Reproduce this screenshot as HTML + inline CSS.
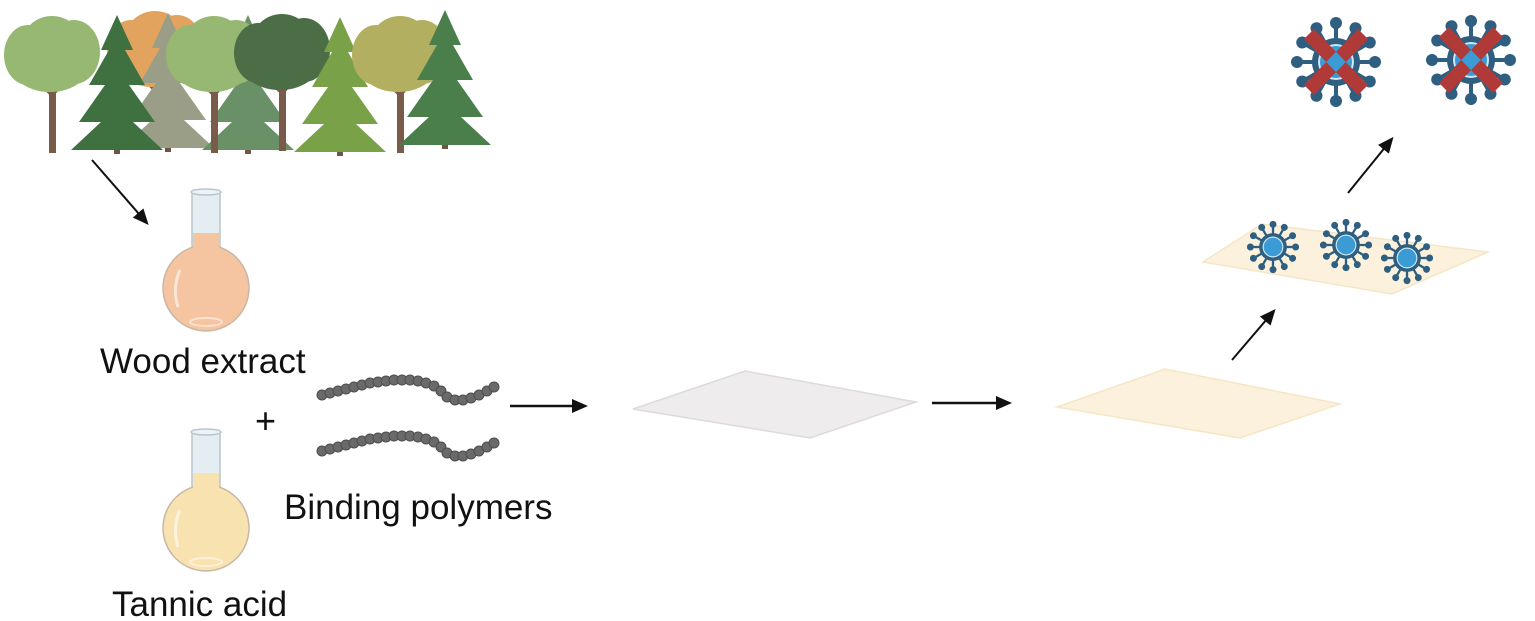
<!DOCTYPE html>
<html><head><meta charset="utf-8"><style>
html,body{margin:0;padding:0;background:#fff;}
svg{display:block;}
text{font-family:"Liberation Sans",Arial,sans-serif;fill:#111;}
</style></head><body>
<svg width="1535" height="621" viewBox="0 0 1535 621" xmlns="http://www.w3.org/2000/svg">
<defs>
<marker id="ah" markerWidth="16" markerHeight="14" refX="12" refY="7" orient="auto" markerUnits="userSpaceOnUse">
<path d="M0,0 L16,7 L0,14 Z" fill="#111"/>
</marker>
<g id="sp"><line x1="22" y1="0" x2="36" y2="0" stroke="#2e5f80" stroke-width="4"/><circle cx="39" cy="0" r="6" fill="#2e5f80"/></g>
<g id="virus">
<use href="#sp" transform="rotate(0)"/><use href="#sp" transform="rotate(30)"/><use href="#sp" transform="rotate(60)"/><use href="#sp" transform="rotate(90)"/><use href="#sp" transform="rotate(120)"/><use href="#sp" transform="rotate(150)"/><use href="#sp" transform="rotate(180)"/><use href="#sp" transform="rotate(210)"/><use href="#sp" transform="rotate(240)"/><use href="#sp" transform="rotate(270)"/><use href="#sp" transform="rotate(300)"/><use href="#sp" transform="rotate(330)"/>
<circle r="24" fill="#2e5f80"/><circle r="18" fill="#cfe6f3"/><circle r="16" fill="#3a9bd5"/>
</g>
<g id="cross"><path d="M-32,-24 L-22,-34 L32,22 L22,32 Z M32,-24 L22,-34 L-32,22 L-22,32 Z" fill="#b03a38" transform="translate(0,1)"/></g>
<g id="flask">
<rect x="-14" y="0" width="28" height="60" fill="#e4eef2" stroke="#b9c6cc" stroke-width="1.5"/>
<ellipse cx="0" cy="0" rx="15" ry="3" fill="#eef4f6" stroke="#b9c6cc" stroke-width="1.5"/>
<circle cx="0" cy="96" r="43" fill="var(--c)" stroke="#c9b7a6" stroke-width="1.5"/>
<rect x="-13" y="41" width="26" height="30" fill="var(--c)"/>
<path d="M-26,78 Q-34,96 -28,115" stroke="#fff" stroke-opacity=".6" stroke-width="3" fill="none"/>
<ellipse cx="0" cy="130" rx="16" ry="4" fill="none" stroke="#fff" stroke-opacity=".5" stroke-width="2"/>
</g>
<g id="decid">
<rect x="-3" y="70" width="7" height="73" fill="#7a5a48"/>
<path d="M0,85 L-24,62 M0,85 L22,62" stroke="#7a5a48" stroke-width="3.5"/>
<ellipse cx="-24" cy="45" rx="24" ry="30"/><ellipse cx="22" cy="42" rx="26" ry="32"/><ellipse cx="0" cy="30" rx="28" ry="24"/><ellipse cx="-2" cy="60" rx="36" ry="22"/>
</g>
<g id="conif">
<rect x="-3" y="100" width="6" height="44" fill="#6e5544"/>
<path d="M0,5 L-16,40 L-8,40 L-28,75 L-12,75 L-38,112 L-16,112 L-46,140 L46,140 L16,112 L38,112 L12,75 L28,75 L8,40 L16,40 Z"/>
</g>
</defs>

<g transform="translate(155,5)" fill="#e2a35e"><use href="#decid"/></g>
<g transform="translate(168,8)" fill="#9a9e86"><use href="#conif"/></g>
<g transform="translate(52,10)" fill="#96b872"><use href="#decid"/></g>
<g transform="translate(117,10)" fill="#3f7040"><use href="#conif"/></g>
<g transform="translate(248,10)" fill="#6a9068"><use href="#conif"/></g>
<g transform="translate(214,10)" fill="#96b872"><use href="#decid"/></g>
<g transform="translate(282,8)" fill="#4b6e46"><use href="#decid"/></g>
<g transform="translate(340,12)" fill="#79a248"><use href="#conif"/></g>
<g transform="translate(400,10)" fill="#b2b060"><use href="#decid"/></g>
<g transform="translate(445,5)" fill="#4a7e4b"><use href="#conif"/></g>

<line x1="92" y1="160" x2="146" y2="222" stroke="#111" stroke-width="2" marker-end="url(#ah)"/>
<line x1="510" y1="406" x2="584" y2="406" stroke="#111" stroke-width="2.5" marker-end="url(#ah)"/>
<line x1="932" y1="403" x2="1008" y2="403" stroke="#111" stroke-width="2.5" marker-end="url(#ah)"/>
<line x1="1232" y1="360" x2="1273" y2="312" stroke="#111" stroke-width="2" marker-end="url(#ah)"/>
<line x1="1348" y1="193" x2="1391" y2="140" stroke="#111" stroke-width="2" marker-end="url(#ah)"/>

<g transform="translate(206,192)" style="--c:#f5c4a0"><use href="#flask"/></g>
<g transform="translate(206,432)" style="--c:#f8e2b0"><use href="#flask"/></g>

<text x="100" y="373" font-size="35">Wood extract</text>
<text x="112" y="616" font-size="35">Tannic acid</text>
<text x="284" y="519" font-size="35">Binding polymers</text>
<text x="255" y="433" font-size="36">+</text>

<g id="chain" fill="#6a6a6a" stroke="#4e4e4e" stroke-width="1">
<circle cx="322" cy="395" r="5"/><circle cx="330" cy="393" r="5"/><circle cx="338" cy="391" r="5"/><circle cx="346" cy="389" r="5"/><circle cx="354" cy="387" r="5"/><circle cx="362" cy="385" r="5"/><circle cx="370" cy="383" r="5"/><circle cx="378" cy="382" r="5"/><circle cx="386" cy="381" r="5"/><circle cx="394" cy="380" r="5"/><circle cx="402" cy="380" r="5"/><circle cx="410" cy="380" r="5"/><circle cx="418" cy="381" r="5"/><circle cx="426" cy="383" r="5"/><circle cx="434" cy="386" r="5"/><circle cx="441" cy="391" r="5"/><circle cx="447" cy="397" r="5"/><circle cx="455" cy="400" r="5"/><circle cx="463" cy="400" r="5"/><circle cx="471" cy="398" r="5"/><circle cx="479" cy="395" r="5"/><circle cx="487" cy="391" r="5"/><circle cx="494" cy="387" r="5"/>
</g>
<use href="#chain" transform="translate(0,56)"/>

<polygon points="633,409 745,371 916,402 810,438" fill="#eeecec" stroke="#dcdada" stroke-width="1.5"/>
<polygon points="1057,407 1165,369 1340,404 1240,438" fill="#fcf1dc" stroke="#f5e6c6" stroke-width="1.5"/>
<polygon points="1203,262 1262,224 1488,252 1392,294" fill="#fcf1dc" stroke="#f5e6c6" stroke-width="1.5"/>

<g transform="translate(1273,247) scale(0.58)"><use href="#virus"/></g>
<g transform="translate(1346,245) scale(0.58)"><use href="#virus"/></g>
<g transform="translate(1407,258) scale(0.58)"><use href="#virus"/></g>

<g transform="translate(1336,62)"><use href="#virus"/><use href="#cross"/></g>
<g transform="translate(1471,60)"><use href="#virus"/><use href="#cross"/></g>
</svg>
</body></html>
